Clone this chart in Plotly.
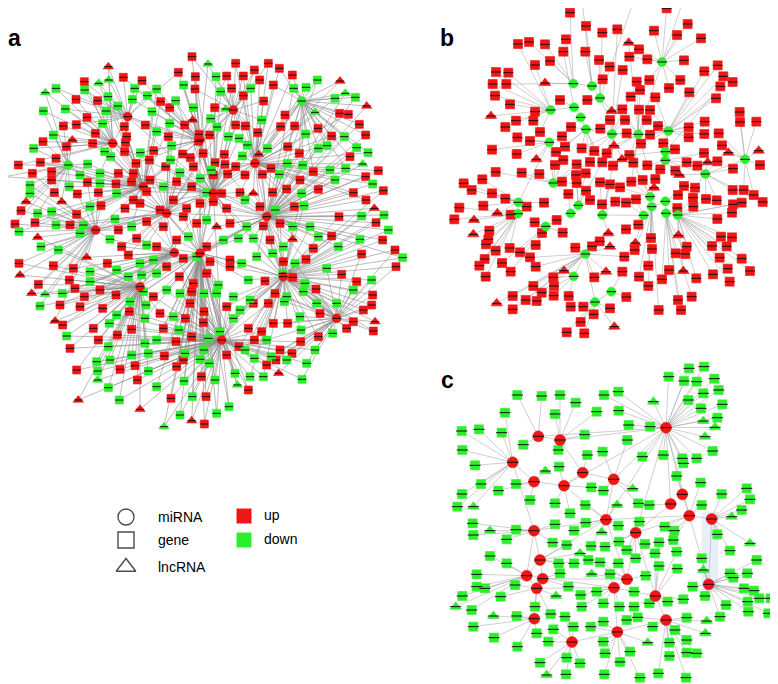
import plotly.graph_objects as go

RED = "#f01616"
GREEN = "#2cee2c"

# panel a  (x, y, kind, linked hubs)  kind: u/d gene up/down, tu/td lncRNA up/down
a_hubs = {
    "A": (338, 430, "u"), "B": (383, 350, "u"), "C": (287, 690, "u"), "D": (523, 758, "u"),
    "E": (665, 1020, "u"), "F": (1010, 955, "u"), "G": (765, 490, "u"), "H": (905, 303, "d"),
    "I": (205, 495, "d"), "J": (600, 420, "u"), "K": (640, 580, "u"), "L": (500, 640, "u"),
    "M": (800, 650, "u"), "N": (600, 760, "u"), "O": (430, 560, "u"), "P": (850, 830, "u"),
    "Q": (420, 860, "u"), "R": (700, 330, "u"),
}
a_links = ["KL", "KJ", "KO", "KM", "KN", "LO", "LD", "LN", "JR", "JO", "GK", "GM", "MP", "NE",
           "DQ", "CO", "AO", "BJ", "IO", "HG", "FP", "ED", "AB", "RG", "CL", "MN", "QN",
           "AK", "BK", "CK", "IK", "HK", "FK", "EK", "QK", "PK", "RL", "GL", "ML", "JN", "ON"]
a_nodes = [
    (576,170,'u','JR'), (624,192,'td','RJ'), (707,190,'u','RG'), (805,190,'u','RG'), (838,205,'u','HG'),
    (325,200,'tu','BA'), (535,217,'u','JB'), (763,210,'u','RK'), (877,225,'u','HG'), (253,245,'u','BA'),
    (296,250,'td','BO'), (326,240,'td','BA'), (370,232,'u','BJ'), (426,242,'u','BJ'), (586,230,'u','JK'),
    (648,230,'d','RK'), (680,228,'u','RJ'), (730,228,'u','RG'), (779,240,'u','RG'), (952,240,'d','HM'),
    (1020,243,'tu','HG'), (136,278,'td','AI'), (168,265,'d','AB'), (254,270,'d','BO'), (404,265,'d','BJ'),
    (470,267,'d','JO'), (551,255,'d','JK'), (585,267,'u','JR'), (695,265,'u','RK'), (752,265,'d','RG'),
    (820,255,'u','HG'), (881,265,'d','HM'), (918,262,'d','HG'), (1036,280,'td','HM'), (228,298,'u','AB'),
    (293,302,'u','BA'), (324,290,'d','BO'), (397,298,'d','BJ'), (442,287,'d','JB'), (482,305,'u','JO'),
    (527,302,'d','JK'), (662,275,'d','RK'), (730,287,'u','RG'), (1005,295,'d','HG'), (1066,292,'d','HM'),
    (130,333,'d','AI'), (196,327,'d','AB'), (318,333,'d','BA'), (353,318,'d','BO'), (456,335,'d','JO'),
    (509,323,'u','JL'), (580,323,'d','JK'), (644,323,'u','RK'), (677,327,'td','RJ'), (791,303,'u','RG'),
    (945,337,'td','HG'), (1100,318,'tu','HM'), (261,352,'u','AB'), (436,375,'u','BJ'), (509,370,'d','JO'),
    (578,360,'tu','JK'), (632,356,'d','RJ'), (707,375,'u','RK'), (736,378,'u','RG'), (785,360,'d','GR'),
    (855,345,'u','HG'), (1019,340,'u','HM'), (1045,343,'u','HG'), (190,378,'u','AI'), (229,374,'u','AB'),
    (308,371,'d','BA'), (373,380,'u','BO'), (470,395,'d','JO'), (554,375,'u','JL'), (651,381,'d','RK'),
    (773,398,'u','GR'), (842,380,'u','HG'), (884,378,'u','HM'), (1078,373,'u','HM'), (954,385,'u','HG'),
    (160,405,'d','AI'), (286,400,'u','AO'), (380,410,'u','BO'), (505,410,'u','JL'), (597,403,'u','JK'),
    (629,405,'u','RK'), (685,410,'d','RK'), (717,415,'d','GK'), (917,402,'d','HM'), (995,408,'u','HG'),
    (1033,410,'d','HM'), (1097,405,'u','HM'), (129,425,'u','AI'), (217,420,'tu','AI'), (278,430,'u','AO'),
    (376,428,'u','BO'), (461,452,'u','JO'), (515,437,'d','JL'), (548,462,'u','JK'), (595,424,'u','JK'),
    (742,435,'d','GK'), (863,440,'u','HG'), (955,445,'d','HM'), (981,437,'d','HG'), (101,445,'d','IA'),
    (199,440,'u','IA'), (314,455,'d','AO'), (374,455,'u','AO'), (421,458,'d','OJ'), (511,480,'d','OK'),
    (571,473,'u','JK'), (609,460,'u','JL'), (645,488,'u','KJ'), (673,463,'u','RK'), (727,468,'d','GK'),
    (776,463,'tu','GM'), (802,445,'d','GH'), (898,460,'u','HM'), (1070,443,'d','HM'), (1104,458,'d','HG'),
    (55,495,'u','IA'), (121,487,'u','IO'), (168,475,'u','IA'), (263,492,'d','IO'), (332,470,'d','AO'),
    (408,490,'u','OJ'), (448,480,'u','OL'), (497,500,'u','OK'), (580,500,'u','KJ'), (634,510,'d','KL'),
    (675,493,'u','KG'), (707,500,'u','GK'), (813,505,'u','GM'), (862,490,'d','MG'), (908,495,'d','HM'),
    (1050,470,'u','HM'), (1088,492,'td','MG'), (15,530,'u','IO'), (97,520,'u','IC'), (155,515,'u','IO'),
    (240,525,'d','IO'), (300,520,'d','OA'), (355,520,'u','OL'), (400,520,'u','OK'), (450,540,'u','OL'),
    (540,518,'d','KL'), (601,535,'d','KL'), (640,525,'u','KG'), (683,522,'u','KM'), (735,525,'u','GK'),
    (787,523,'u','GM'), (838,523,'d','MG'), (900,540,'u','MG'), (940,515,'u','MH'), (990,510,'d','MG'),
    (1037,505,'d','MH'), (1135,512,'u','MG'), (1097,530,'u','MG'), (90,555,'d','IC'), (155,540,'u','IO'),
    (208,560,'d','IO'), (262,547,'u','OC'), (300,550,'d','OI'), (348,552,'u','OL'), (395,545,'u','OK'),
    (90,580,'d','IC'), (163,578,'u','IC'), (232,582,'u','CO'), (295,578,'u','OC'), (350,580,'d','OL'),
    (400,600,'u','OL'), (440,575,'u','OK'), (490,560,'d','LK'), (530,545,'u','LK'), (575,560,'u','KL'),
    (620,578,'d','KN'), (665,580,'u','KM'), (720,578,'u','KG'), (760,580,'tu','MG'), (818,577,'u','MG'),
    (860,567,'u','MG'), (905,580,'d','MP'), (955,568,'u','MG'), (1005,540,'d','MG'), (1060,578,'u','MG'),
    (1118,552,'d','MG'), (1150,572,'u','MP'), (78,605,'tu','IC'), (113,640,'d','CI'), (155,635,'d','CO'),
    (185,605,'tu','IC'), (230,643,'u','CO'), (270,620,'d','CO'), (303,617,'u','OC'), (345,657,'d','CL'),
    (375,625,'u','OL'), (420,610,'u','OL'), (480,630,'u','LK'), (520,600,'u','LK'), (560,625,'u','LN'),
    (600,610,'u','KN'), (640,605,'u','KM'), (680,625,'u','KM'), (735,600,'d','MK'), (780,620,'u','MG'),
    (826,630,'d','MP'), (883,620,'u','MG'), (912,617,'d','MP'), (1017,650,'u','MP'), (1085,648,'d','MP'),
    (1098,600,'u','MG'), (1123,625,'tu','MP'), (1152,645,'d','MP'), (63,632,'u','CI'), (45,672,'u','CI'),
    (57,695,'d','CO'), (105,668,'u','CO'), (168,675,'d','CL'), (210,675,'u','CO'), (250,675,'d','CL'),
    (355,690,'u','CL'), (395,680,'d','LO'), (440,665,'u','LD'), (490,680,'u','LD'), (550,650,'u','LN'),
    (590,670,'u','NK'), (620,660,'d','NK'), (650,680,'tu','NM'), (690,670,'u','MK'), (740,680,'d','MN'),
    (790,678,'u','MP'), (840,670,'u','MP'), (878,680,'d','MP'), (930,680,'d','MP'), (955,710,'d','MP'),
    (995,708,'u','MP'), (1128,668,'u','MP'), (1165,690,'d','MP'), (113,712,'tu','CQ'), (175,750,'d','CQ'),
    (123,740,'d','CL'), (240,700,'d','CL'), (330,718,'d','CD'), (365,740,'u','LD'), (410,715,'u','LD'),
    (440,735,'d','DL'), (470,740,'u','DN'), (530,720,'u','DN'), (565,710,'d','NL'), (620,740,'u','NM'),
    (670,720,'d','NM'), (715,715,'d','MN'), (760,715,'d','MP'), (810,720,'u','MP'), (850,740,'d','PM'),
    (878,718,'tu','PM'), (940,745,'u','PM'), (1015,740,'d','PM'), (1080,718,'d','PM'), (1148,720,'u','PM'),
    (1185,750,'u','PF'), (57,790,'u','CQ'), (60,825,'tu','CQ'), (160,797,'u','CQ'), (220,805,'u','CD'),
    (260,772,'tu','CD'), (322,790,'u','QD'), (385,765,'u','DL'), (420,790,'d','QD'), (460,780,'d','DN'),
    (550,775,'u','DN'), (590,770,'d','NM'), (630,785,'u','NE'), (690,780,'u','NP'), (725,790,'d','NP'),
    (770,770,'d','PM'), (818,760,'d','PM'), (850,785,'u','PM'), (885,790,'d','PF'), (918,778,'u','PM'),
    (980,805,'d','PF'), (1085,762,'u','PF'), (1188,800,'u','PF'), (1208,773,'d','PM'), (115,853,'u','QC'),
    (95,880,'tu','QC'), (135,883,'td','QC'), (187,880,'d','QD'), (208,840,'u','QC'), (225,865,'u','QD'),
    (270,815,'d','QD'), (270,845,'d','QD'), (350,810,'d','QD'), (385,830,'d','QD'), (425,825,'d','QN'),
    (470,820,'d','DN'), (500,800,'u','DN'), (538,830,'u','NE'), (580,850,'u','NE'), (620,820,'u','NE'),
    (655,855,'d','NE'), (690,800,'u','NP'), (745,840,'d','PN'), (795,843,'u','PE'), (848,820,'d','PF'),
    (878,832,'u','PF'), (915,850,'d','PF'), (948,867,'u','PF'), (1025,823,'u','PF'), (1070,845,'u','PF'),
    (1115,840,'d','FP'), (1118,885,'u','FP'), (253,890,'u','QD'), (300,870,'u','QD'), (348,885,'u','QD'),
    (390,905,'d','QN'), (430,875,'d','QN'), (460,890,'u','QE'), (500,870,'d','NE'), (540,880,'d','NE'),
    (575,875,'u','EN'), (612,880,'d','EN'), (650,880,'d','EN'), (700,890,'d','EP'), (750,900,'d','EP'),
    (825,880,'u','PF'), (860,890,'d','PF'), (910,875,'d','FP'), (950,910,'d','FP'), (1010,910,'d','FP'),
    (1060,870,'d','FP'), (1115,915,'u','FP'), (120,918,'d','QC'), (180,915,'u','QD'), (240,920,'u','QD'),
    (308,925,'u','QD'), (350,945,'d','QE'), (388,935,'u','QE'), (438,915,'d','QN'), (480,940,'u','EQ'),
    (520,950,'d','EN'), (570,910,'u','EN'), (612,935,'u','EN'), (680,920,'u','EP'), (720,930,'d','EP'),
    (760,910,'u','EP'), (805,910,'u','PE'), (853,905,'d','PF'), (900,950,'d','FP'), (960,940,'u','FP'),
    (1090,930,'u','FP'), (1060,965,'u','FP'), (1125,965,'tu','FP'), (1040,985,'u','FP'), (1120,993,'u','FP'),
    (165,963,'tu','QC'), (188,975,'u','QD'), (280,985,'u','QD'), (328,970,'d','QE'), (395,988,'u','QE'),
    (435,955,'d','QN'), (490,985,'u','EN'), (537,990,'d','EN'), (556,955,'u','EN'), (610,968,'u','EN'),
    (625,1015,'d','EN'), (660,995,'d','EP'), (700,955,'d','EP'), (745,985,'u','EP'), (785,995,'u','EP'),
    (820,970,'u','PF'), (863,970,'u','FP'), (903,990,'d','FP'), (902,1025,'u','FE'), (955,1010,'u','FP'),
    (998,1000,'d','FP'), (200,1008,'d','QE'), (210,1045,'u','QE'), (295,1020,'u','QE'), (325,1040,'d','QE'),
    (352,1005,'u','QE'), (435,1030,'d','QE'), (470,1020,'d','EN'), (528,1025,'u','EN'), (575,1010,'u','EN'),
    (612,1050,'d','EN'), (717,1040,'u','EP'), (763,1020,'u','EP'), (800,1020,'d','EF'), (840,1050,'u','EF'),
    (876,1060,'u','FE'), (945,1050,'d','FE'), (814,1070,'d','EF'), (290,1085,'d','QE'), (330,1080,'d','QE'),
    (395,1065,'d','QE'), (445,1060,'d','QE'), (493,1068,'u','EN'), (550,1080,'u','EN'), (600,1078,'d','EN'),
    (680,1065,'u','EN'), (735,1050,'d','EP'), (763,1075,'d','EP'), (800,1095,'u','EF'), (828,1080,'u','EF'),
    (860,1080,'d','FE'), (920,1090,'d','FE'), (230,1110,'u','QE'), (293,1113,'d','QE'), (293,1140,'td','QE'),
    (360,1108,'u','QE'), (405,1097,'u','QE'), (445,1113,'d','QE'), (530,1100,'u','EN'), (555,1060,'d','EN'),
    (604,1130,'u','EN'), (628,1090,'d','EN'), (645,1140,'d','EN'), (705,1120,'d','EN'), (750,1130,'d','EP'),
    (790,1130,'d','EP'), (836,1120,'tu','EF'), (906,1138,'d','EF'), (745,1170,'u','EN'), (712,1155,'td','EN'),
    (412,1140,'u','QE'), (470,1160,'d','EN'), (552,1143,'d','EN'), (325,1163,'d','QE'), (358,1200,'d','QE'),
    (235,1200,'tu','QE'), (420,1228,'tu','QE'), (513,1195,'u','EN'), (577,1190,'d','EN'), (618,1190,'u','EN'),
    (687,1220,'d','EN'), (650,1240,'d','EN'), (540,1245,'d','EN'), (575,1262,'tu','EN'), (613,1272,'u','EN'),
    (492,1280,'td','EN'),
]

# panel b
b_hubs = {
    "A": (696,186,"d"), "B": (430,251,"d"), "C": (486,258,"d"), "D": (510,294,"d"), "E": (432,322,"d"),
    "F": (362,330,"d"), "G": (452,352,"d"), "H": (468,388,"d"), "I": (358,427,"d"), "J": (546,402,"d"),
    "K": (625,403,"d"), "L": (715,393,"d"), "M": (706,455,"d"), "N": (706,481,"d"), "O": (945,478,"d"),
    "P": (826,522,"d"), "Q": (370,549,"d"), "R": (265,607,"d"), "S": (264,641,"d"), "T": (445,616,"d"),
    "U": (422,640,"d"), "V": (517,645,"d"), "W": (660,590,"d"), "X": (665,620,"d"), "Y": (706,604,"d"),
    "Z": (708,640,"d"), "a": (743,645,"d"), "b": (641,646,"d"), "c": (347,679,"d"), "d": (466,762,"d"),
    "e": (431,829,"d"), "f": (544,875,"d"), "g": (495,906,"d"),
}
b_links = ["BC", "CD", "EF", "GH", "JK", "LM", "MN", "WX", "XY", "YZ", "Za", "RS", "TU", "de", "fg",
           "HJ", "KL", "NP", "QI", "Vb", "dg", "AK", "IR", "PO"]
b_nodes = [
    (458,18,'u','C'), (420,38,'u','B'), (607,14,'u','D'), (710,25,'u','A'), (756,12,'u','A'), (773,72,'u','A'),
    (468,78,'u','C'), (517,98,'u','D'), (562,88,'u','J'), (672,92,'u','A'), (741,105,'u','A'), (813,115,'u','A'),
    (408,118,'u','B'), (596,128,'tu','K'), (627,148,'u','A'), (264,132,'u','F'), (297,126,'u','B'), (345,133,'u','B'),
    (400,155,'u','E'), (466,155,'u','C'), (507,180,'u','D'), (539,200,'u','C'), (578,210,'u','J'), (598,170,'u','A'),
    (652,178,'u','A'), (762,181,'u','A'), (823,214,'u','L'), (863,196,'u','L'), (880,229,'u','L'), (908,246,'u','L'),
    (871,259,'u','M'), (858,295,'u','L'), (778,277,'u','L'), (751,240,'u','A'), (717,264,'u','A'), (658,240,'u','A'),
    (620,245,'u','K'), (630,270,'u','K'), (602,290,'u','J'), (676,292,'u','L'), (360,183,'u','B'), (315,195,'u','F'),
    (198,216,'u','F'), (235,218,'u','F'), (188,252,'u','F'), (229,252,'u','B'), (195,287,'u','F'), (240,313,'u','F'),
    (345,249,'tu','B'), (518,238,'u','C'), (390,300,'u','E'), (472,300,'u','D'), (315,335,'u','F'), (310,362,'u','I'),
    (226,381,'u','F'), (258,362,'u','F'), (183,348,'tu','F'), (545,333,'tu','D'), (540,360,'u','JD'), (577,328,'u','K'),
    (585,360,'u','JK'), (627,329,'u','K'), (660,330,'u','L'), (650,360,'u','KL'), (684,378,'u','L'), (590,400,'u','KJ'),
    (511,386,'u','HJ'), (423,381,'u','GH'), (396,409,'u','I'), (300,423,'u','I'), (330,396,'u','F'), (262,412,'u','I'),
    (186,449,'u','I'), (260,462,'u','I'), (319,478,'tu','I'), (378,456,'u','IH'), (405,440,'u','H'), (455,445,'u','HJ'),
    (493,453,'u','JH'), (530,460,'u','JK'), (552,437,'tu','JK'), (598,465,'u','KM'), (633,431,'u','KL'), (660,404,'u','LK'),
    (700,430,'u','ML'), (735,448,'u','M'), (776,412,'u','L'), (776,382,'u','L'), (824,365,'u','L'), (823,402,'u','L'),
    (866,400,'u','O'), (876,436,'u','O'), (929,336,'u','O'), (979,365,'u','O'), (930,366,'u','O'), (895,458,'tu','O'),
    (986,452,'tu','O'), (990,495,'u','O'), (909,506,'u','P'), (862,484,'u','P'), (833,487,'tu','P'), (822,459,'u','N'),
    (770,487,'u','N'), (748,525,'tu','P'), (802,497,'u','P'), (736,512,'u','N'), (691,508,'u','NW'), (652,496,'u','NK'),
    (610,488,'u','KW'), (576,478,'tu','J'), (549,497,'u','JV'), (517,487,'u','HT'), (480,486,'u','HQ'), (440,493,'u','Q'),
    (400,480,'u','Q'), (375,495,'u','Q'), (328,522,'u','Q'), (275,518,'u','Q'), (197,516,'u','Q'), (157,538,'u','R'),
    (101,550,'u','R'), (125,570,'u','R'), (186,580,'u','R'), (160,617,'u','R'), (88,623,'u','S'), (73,658,'u','S'),
    (132,660,'tu','S'), (130,703,'tu','S'), (178,692,'u','S'), (168,733,'u','S'), (202,640,'tu','R'), (242,644,'u','S'),
    (226,596,'u','R'), (396,545,'u','Q'), (438,525,'u','T'), (467,520,'u','T'), (440,549,'u','TQ'), (415,582,'u','U'),
    (468,572,'u','T'), (510,547,'u','V'), (540,553,'u','V'), (570,562,'u','W'), (604,545,'u','WK'), (638,540,'u','W'),
    (676,537,'u','N'), (672,563,'tu','W'), (618,598,'u','b'), (588,608,'u','b'), (556,605,'u','V'), (516,613,'u','V'),
    (480,600,'u','T'), (380,660,'u','c'), (290,620,'u','S'), (314,667,'u','c'), (342,608,'u','R'), (762,558,'u','Y'),
    (795,563,'u','P'), (828,597,'u','P'), (860,601,'u','P'), (789,593,'u','a'), (744,585,'u','Y'), (908,570,'u','P'),
    (941,570,'u','O'), (971,585,'u','O'), (998,606,'u','P'), (935,608,'u','a'), (909,613,'u','a'), (906,638,'u','a'),
    (862,657,'u','a'), (790,620,'u','a'), (742,624,'u','Z'), (745,706,'tu','a'), (770,740,'u','a'), (766,762,'u','Z'),
    (737,760,'u','Z'), (663,714,'u','X'), (666,747,'u','X'), (625,674,'u','b'), (588,688,'u','b'), (616,729,'tu','b'),
    (535,700,'tu','V'), (540,740,'tu','d'), (509,724,'u','d'), (486,739,'u','d'), (436,743,'u','d'), (398,698,'u','c'),
    (336,699,'u','c'), (317,735,'u','c'), (270,757,'u','c'), (239,744,'u','S'), (175,718,'u','S'), (197,752,'u','S'),
    (164,777,'u','S'), (148,797,'u','S'), (216,789,'u','c'), (242,815,'u','c'), (167,830,'u','S'), (300,772,'u','d'),
    (317,800,'u','d'), (402,812,'tu','e'), (370,832,'u','e'), (493,832,'u','d'), (528,815,'tu','d'), (577,815,'u','f'),
    (627,830,'u','X'), (655,797,'u','X'), (583,770,'u','d'), (614,750,'u','X'), (655,858,'u','X'), (696,838,'u','Z'),
    (717,810,'u','Z'), (760,813,'tu','a'), (799,835,'u','a'), (849,823,'u','a'), (869,773,'u','a'), (893,806,'u','a'),
    (935,776,'u','a'), (960,813,'u','a'), (899,845,'u','a'), (890,739,'u','a'), (906,712,'u','a'), (846,738,'u','a'),
    (873,710,'u','a'), (589,891,'u','f'), (540,925,'u','g'), (491,943,'u','g'), (416,888,'u','e'), (422,920,'u','g'),
    (460,920,'u','g'), (452,966,'u','g'), (410,997,'u','g'), (463,1000,'u','g'), (553,980,'tu','g'), (686,930,'u','X'),
    (744,900,'u','Z'), (785,890,'u','Z'), (753,930,'u','Z'), (200,910,'tu','d'), (248,888,'u','d'), (287,900,'u','d'),
    (320,903,'u','d'), (248,928,'u','d'), (310,858,'u','d'), (335,878,'u','d'), (372,858,'u','e'), (371,887,'u','e'),
]

# panel c
c_hubs = {
    "A": (708,263,"u"), "B": (325,289,"u"), "C": (390,300,"u"), "D": (248,367,"u"), "E": (458,398,"u"),
    "F": (312,425,"u"), "G": (402,437,"u"), "H": (551,418,"u"), "I": (757,463,"u"), "J": (722,492,"u"),
    "K": (778,527,"u"), "L": (845,537,"u"), "M": (528,539,"u"), "N": (312,572,"u"), "O": (617,578,"u"),
    "P": (330,660,"u"), "Q": (290,707,"u"), "R": (338,716,"u"), "S": (320,745,"u"), "T": (591,718,"u"),
    "U": (552,743,"u"), "V": (676,768,"u"), "W": (836,733,"u"), "X": (708,840,"u"), "Y": (313,836,"u"),
    "Z": (562,876,"u"), "a": (426,906,"u"),
}
c_links = ["AB", "AC", "AG", "AH", "AM", "AO", "AK", "AJ", "AI", "KL", "KM", "KO", "NM", "NP", "PQ", "PR",
           "RS", "QS", "MT", "TU", "UV", "VX", "OT", "OV", "KW", "LW", "DF", "FG", "EG", "EC", "BC", "NQ",
           "YS", "aZ", "ZU", "ZX", "GM", "HM", "HE", "RT", "SU", "PM", "IK", "JO", "QU", "DN"]
c_nodes = [
    (777,85,'d','A'), (822,80,'d','A'), (716,110,'d','A'), (762,123,'d','A'), (800,125,'d','A'), (853,116,'d','A'),
    (866,150,'d','A'), (775,180,'d','A'), (820,160,'d','A'), (813,205,'d','A'), (877,193,'d','A'), (862,233,'d','A'),
    (670,185,'td','A'), (820,243,'td','A'), (855,262,'td','A'), (825,290,'td','A'), (848,333,'d','A'),
    (262,165,'d','B'), (335,168,'d','B'), (390,165,'d','C'), (437,188,'d','C'), (522,165,'d','A'), (565,155,'d','A'),
    (225,218,'d','D'), (375,222,'d','C'), (500,215,'d','C'), (566,212,'d','A'), (95,273,'d','D'), (147,268,'d','D'),
    (215,278,'d','D'), (280,314,'d','B'), (464,284,'d','C'), (596,255,'d','A'), (660,260,'d','A'), (97,330,'d','D'),
    (135,376,'d','D'), (385,330,'d','C'), (472,345,'d','E'), (518,335,'d','H'), (592,300,'d','H'), (637,350,'d','A'),
    (700,345,'d','A'), (757,355,'d','A'), (800,355,'d','A'), (760,370,'d','A'), (346,393,'td','F'), (387,380,'d','G'),
    (153,432,'d','D'), (205,452,'d','F'), (258,432,'d','F'), (484,442,'d','G'), (520,452,'d','H'), (608,446,'td','H'),
    (740,408,'d','I'), (812,428,'d','K'), (875,462,'d','L'), (950,445,'d','L'), (960,478,'d','L'), (935,510,'d','L'),
    (905,530,'td','L'), (96,462,'d','D'), (82,500,'d','D'), (130,500,'td','D'), (300,480,'d','F'), (375,490,'d','G'),
    (420,520,'d','G'), (466,495,'d','M'), (561,495,'td','M'), (625,490,'d','H'), (658,495,'d','J'), (815,495,'d','K'),
    (128,550,'d','N'), (130,585,'d','N'), (180,572,'td','N'), (230,598,'d','N'), (258,569,'d','N'), (375,553,'d','N'),
    (432,572,'d','M'), (467,548,'d','M'), (565,557,'d','M'), (515,577,'td','M'), (628,545,'d','O'), (704,560,'d','K'),
    (733,572,'d','K'), (862,583,'d','L'), (960,610,'td','L'), (368,608,'d','N'), (410,615,'d','P'), (450,640,'td','P'),
    (483,618,'d','M'), (525,620,'d','O'), (567,605,'d','O'), (590,630,'d','O'), (645,612,'d','O'), (687,607,'d','V'),
    (730,600,'d','K'), (675,640,'d','V'), (740,635,'d','V'), (815,655,'d','W'), (900,632,'d','L'), (980,660,'d','W'),
    (180,648,'d','Q'), (230,670,'d','Q'), (386,670,'d','P'), (432,670,'d','P'), (475,660,'d','T'), (510,667,'d','T'),
    (565,670,'d','T'), (617,655,'d','O'), (687,678,'d','V'), (742,686,'d','V'), (820,690,'td','W'), (900,700,'d','W'),
    (952,700,'d','W'), (140,703,'d','Q'), (390,700,'d','R'), (485,702,'td','T'), (540,702,'d','U'), (647,707,'d','T'),
    (788,740,'d','W'), (910,713,'d','W'), (165,745,'d','Q'), (97,768,'d','Q'), (140,740,'d','Q'), (212,770,'d','S'),
    (255,735,'d','S'), (415,740,'d','R'), (378,768,'td','S'), (452,765,'d','U'), (500,755,'d','U'), (612,755,'d','T'),
    (760,778,'d','V'), (825,768,'d','W'), (942,745,'d','W'), (972,752,'d','W'), (988,775,'d','W'), (1022,775,'d','W'),
    (953,785,'d','W'), (77,800,'td','Q'), (125,810,'d','Q'), (190,828,'td','Y'), (260,828,'d','Y'), (315,800,'d','S'),
    (362,822,'d','S'), (405,830,'d','a'), (455,800,'d','U'), (520,790,'d','U'), (568,800,'d','U'), (612,800,'d','V'),
    (658,790,'d','V'), (713,785,'d','V'), (888,795,'d','W'), (955,815,'d','W'), (1015,820,'d','W'), (130,860,'d','Y'),
    (192,893,'d','Y'), (262,920,'d','Y'), (320,880,'d','Y'), (370,868,'d','a'), (430,860,'d','a'), (482,860,'d','Z'),
    (520,845,'d','Z'), (590,840,'d','Z'), (623,832,'d','X'), (668,860,'d','X'), (770,833,'d','X'), (830,843,'td','X'),
    (826,880,'td','X'), (735,870,'d','X'), (653,908,'td','Z'), (718,908,'d','X'), (770,900,'d','X'), (800,940,'d','X'),
    (770,938,'d','X'), (718,948,'d','X'), (355,905,'d','a'), (410,953,'d','a'), (450,970,'d','a'), (520,905,'d','Z'),
    (525,940,'d','Z'), (570,966,'d','Z'), (600,935,'d','Z'), (330,968,'d','a'), (350,1005,'td','a'), (408,1003,'d','a'),
    (523,1003,'d','Z'), (630,1013,'d','Z'), (685,1000,'d','X'), (768,1013,'d','X'), (870,830,'d','W'),
]

# legend entries
shape_names = ["miRNA", "gene", "lncRNA"]
color_names = ["up", "down"]
panel_letters = ["a", "b", "c"]

COL = {"u": RED, "d": GREEN}
fig = go.Figure()


def add_panel(nodes, hubs, links, xa, ya, sq, circ, lab, ecol, ew):
    ex, ey = [], []
    for x, y, kind, h in nodes:
        for k in h:
            ex += [x, hubs[k][0], None]
            ey += [y, hubs[k][1], None]
    for p, q in links:
        ex += [hubs[p][0], hubs[q][0], None]
        ey += [hubs[p][1], hubs[q][1], None]
    fig.add_trace(go.Scatter(x=ex, y=ey, mode="lines", line=dict(color=ecol, width=ew),
                             xaxis=xa, yaxis=ya, hoverinfo="skip"))
    for kind, sym, size in [("u", "square", sq), ("d", "square", sq),
                            ("tu", "triangle-up", sq + 1), ("td", "triangle-up", sq + 1)]:
        pts = [n for n in nodes if n[2] == kind]
        if not pts:
            continue
        c = COL[kind[-1]]
        fig.add_trace(go.Scatter(x=[p[0] for p in pts], y=[p[1] for p in pts], mode="markers",
                                 marker=dict(symbol=sym, size=size, color=c, line=dict(color=c, width=0.6)),
                                 xaxis=xa, yaxis=ya, cliponaxis=False, hoverinfo="skip"))
    hv = list(hubs.values())
    fig.add_trace(go.Scatter(x=[h[0] for h in hv], y=[h[1] for h in hv], mode="markers",
                             marker=dict(symbol="circle", size=circ, color=[COL[h[2]] for h in hv],
                                         line=dict(color=[COL[h[2]] for h in hv], width=0.5)),
                             xaxis=xa, yaxis=ya, cliponaxis=False, hoverinfo="skip"))
    allx = [n[0] for n in nodes] + [h[0] for h in hv]
    ally = [n[1] for n in nodes] + [h[1] for h in hv]
    fig.add_trace(go.Scatter(x=allx, y=ally, mode="markers",
                             marker=dict(symbol="line-ew", size=lab, color="#111111",
                                         line=dict(color="#111111", width=1)),
                             xaxis=xa, yaxis=ya, cliponaxis=False, hoverinfo="skip"))


# the page puts the figure 8 px in from the top-left corner of the window
PAD = 8
W, H = 778 - PAD, 684 - PAD
add_panel(a_nodes, a_hubs, a_links, "x", "y", 8, 9, 6, "#8f8f8f", 0.6)
add_panel(b_nodes, b_hubs, b_links, "x2", "y2", 9, 9, 7, "#9e9e9e", 0.5)
add_panel(c_nodes, c_hubs, c_links, "x3", "y3", 9, 11, 8, "#9e9e9e", 0.5)

fig.add_shape(type="rect", xref="x3", yref="y3", x0=815, x1=865, y0=515, y1=755,
              fillcolor="#e6f0f7", line=dict(width=0), layer="below")

# legend on a pixel overlay axis
fig.add_trace(go.Scatter(x=[126, 126, 126], y=[517, 540, 567], mode="markers",
                         marker=dict(symbol=["circle-open", "square-open", "triangle-up-open"],
                                     size=[16, 16, 17], color="black", line=dict(width=1.4)),
                         xaxis="x4", yaxis="y4", hoverinfo="skip"))
fig.add_trace(go.Scatter(x=[244, 244], y=[516, 540], mode="markers",
                         marker=dict(symbol="square", size=15, color=[RED, GREEN]),
                         xaxis="x4", yaxis="y4", hoverinfo="skip"))
for name, yy in zip(shape_names, [517, 540, 567]):
    fig.add_annotation(x=156, y=yy, xref="x4", yref="y4", text=name, showarrow=False, xanchor="left",
                       font=dict(family="Liberation Sans, Arial", size=14, color="black"))
for name, yy in zip(color_names, [515, 539]):
    fig.add_annotation(x=262, y=yy, xref="x4", yref="y4", text=name, showarrow=False, xanchor="left",
                       font=dict(family="Liberation Sans, Arial", size=14, color="black"))
for lt, (lx, ly) in zip(panel_letters, [(14, 38), (447, 38), (447, 380)]):
    fig.add_annotation(x=lx, y=ly, xref="x4", yref="y4", text="<b>%s</b>" % lt, showarrow=False,
                       xanchor="center", font=dict(family="Liberation Sans, Arial", size=23, color="black"))

ax = dict(visible=False, fixedrange=True)
fig.update_layout(
    width=W, height=H, margin=dict(l=0, r=0, t=0, b=0), showlegend=False,
    paper_bgcolor="white", plot_bgcolor="rgba(0,0,0,0)",
    xaxis=dict(ax, domain=[0, (420 - PAD) / W], range=[3 * PAD, 1260]),
    yaxis=dict(ax, domain=[1 - (440 - PAD) / H, 1], range=[1320, 3 * PAD]),
    xaxis2=dict(ax, domain=[(430 - PAD) / W, 1], range=[0, 1044]),
    yaxis2=dict(ax, domain=[1 - (340 - PAD) / H, 1], range=[1020, 3 * PAD]),
    xaxis3=dict(ax, domain=[(430 - PAD) / W, 1], range=[0, 1044]),
    yaxis3=dict(ax, domain=[0, 1 - (340 - PAD) / H], range=[1032, 0]),
    xaxis4=dict(ax, domain=[0, 1], range=[PAD, 778]),
    yaxis4=dict(ax, domain=[0, 1], range=[684, PAD]),
)

fig.write_html("out.html")
